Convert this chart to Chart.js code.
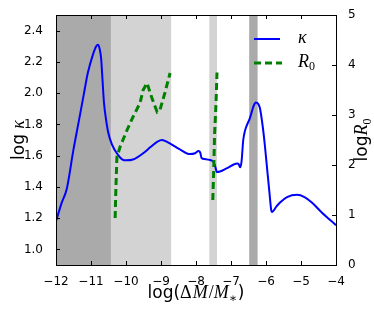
<!DOCTYPE html>
<html>
<head>
<meta charset="utf-8">
<script src="https://cdn.jsdelivr.net/npm/chart.js@4.4.1/dist/chart.umd.min.js"></script>
<style>
html, body { margin: 0; padding: 0; background: #fff; }
#wrap { width: 374px; height: 312px; }
</style>
</head>
<body>
<div id="wrap"><canvas id="c"></canvas></div>
<script>
// kappa curve (left axis)
const kappaX = [-12, -11.85, -11.69, -11.5, -11.34, -11.2, -11.09, -10.94, -10.85, -10.8, -10.75, -10.71, -10.67, -10.63, -10.57, -10.51, -10.4, -10.23, -10.1, -10.0, -9.8, -9.51, -9.3, -9.1, -8.97, -8.8, -8.46, -8.17, -8.03, -7.93, -7.88, -7.84, -7.75, -7.6, -7.5, -7.45, -7.4, -7.11, -6.83, -6.78, -6.74, -6.7, -6.65, -6.6, -6.46, -6.35, -6.29, -6.22, -6.17, -6.09, -6.03, -5.97, -5.9, -5.85, -5.83, -5.7, -5.6, -5.4, -5.11, -4.9, -4.69, -4.4, -4];
const kappaY = [1.18, 1.29, 1.39, 1.64, 1.83, 2.0, 2.13, 2.25, 2.30, 2.31, 2.28, 2.22, 2.08, 1.94, 1.83, 1.75, 1.67, 1.605, 1.575, 1.57, 1.575, 1.615, 1.655, 1.69, 1.70, 1.685, 1.64, 1.61, 1.615, 1.63, 1.62, 1.585, 1.578, 1.572, 1.56, 1.53, 1.495, 1.52, 1.55, 1.545, 1.525, 1.56, 1.70, 1.76, 1.84, 1.92, 1.94, 1.93, 1.90, 1.78, 1.66, 1.52, 1.36, 1.25, 1.24, 1.275, 1.30, 1.335, 1.35, 1.335, 1.30, 1.235, 1.155];

// R0 curve (right axis), null = gap
const r0X = [-10.31, -10.29, -10.26, -10.17, -9.97, -9.8, -9.6, -9.51, -9.4, -9.26, -9.11, -9.03, -8.89, -8.74, null, -7.52, -7.49, -7.47, -7.43, -7.40];
const r0Y = [0.94, 1.5, 2.16, 2.36, 2.7, 2.96, 3.24, 3.5, 3.64, 3.34, 3.06, 3.1, 3.44, 3.84, null, 1.3, 2.0, 2.6, 3.2, 3.85];

// shaded x ranges
const darkBands = [[-12, -10.43], [-6.48, -6.24]];
const lightBands = [[-10.43, -8.71], [-7.62, -7.40]];

const xTicks = [-12, -11, -10, -9, -8, -7, -6, -5, -4];
const kappaTicks = [1.0, 1.2, 1.4, 1.6, 1.8, 2.0, 2.2, 2.4];
const r0Ticks = [0, 1, 2, 3, 4, 5];

const SANS = '"DejaVu Sans", sans-serif';
const SERIF = '"Liberation Serif", "DejaVu Serif", serif';

const minus = (v) => (v < 0 ? '\u2212' + Math.abs(v) : String(v));

function drawRich(ctx, parts, x, y, angle) {
    ctx.save();
    ctx.translate(x, y);
    ctx.rotate(angle);
    ctx.textAlign = 'left';
    ctx.textBaseline = 'alphabetic';
    ctx.fillStyle = '#000';
    let total = 0;
    parts.forEach(p => { ctx.font = p.f; p.w = ctx.measureText(p.t).width + (p.gap || 0); total += p.w; });
    let cx = -total / 2;
    parts.forEach(p => { ctx.font = p.f; ctx.fillText(p.t, cx, p.dy || 0); cx += p.w; });
    ctx.restore();
}

const decor = {
    id: 'decor',
    beforeDatasetsDraw(chart) {
        const { ctx, chartArea: a, scales: { x } } = chart;
        ctx.save();
        const band = (list, color) => {
            ctx.fillStyle = color;
            list.forEach(([x0, x1]) => {
                const p0 = x.getPixelForValue(x0), p1 = x.getPixelForValue(x1);
                ctx.fillRect(p0, a.top, p1 - p0, a.bottom - a.top);
            });
        };
        band(darkBands, '#aaaaaa');
        band(lightBands, '#d3d3d3');
        ctx.restore();
    },
    afterDraw(chart) {
        const { ctx, chartArea: a, scales: { x, y, y2 } } = chart;
        ctx.save();
        ctx.strokeStyle = '#000';
        ctx.lineWidth = 1;
        // inward ticks
        ctx.beginPath();
        xTicks.forEach(v => {
            const px = Math.round(x.getPixelForValue(v)) + 0.5;
            ctx.moveTo(px, a.bottom); ctx.lineTo(px, a.bottom - 4);
            ctx.moveTo(px, a.top); ctx.lineTo(px, a.top + 4);
        });
        kappaTicks.forEach(v => {
            const py = Math.round(y.getPixelForValue(v)) + 0.5;
            ctx.moveTo(a.left, py); ctx.lineTo(a.left + 4, py);
        });
        r0Ticks.forEach(v => {
            const py = Math.round(y2.getPixelForValue(v)) + 0.5;
            ctx.moveTo(a.right, py); ctx.lineTo(a.right - 4, py);
        });
        ctx.stroke();
        // frame
        ctx.strokeRect(Math.round(a.left) + 0.5, Math.round(a.top) + 0.5,
            Math.round(a.right - a.left), Math.round(a.bottom - a.top));

        // legend
        const lx0 = a.right - 82, lx1 = a.right - 56;
        ctx.lineWidth = 2;
        ctx.strokeStyle = '#0000ff';
        ctx.beginPath(); ctx.moveTo(lx0, a.top + 24); ctx.lineTo(lx1, a.top + 24); ctx.stroke();
        ctx.lineWidth = 3;
        ctx.strokeStyle = '#008000';
        ctx.setLineDash([7, 4]);
        ctx.beginPath(); ctx.moveTo(lx0, a.top + 48); ctx.lineTo(lx1 + 2, a.top + 48); ctx.stroke();
        ctx.setLineDash([]);
        ctx.fillStyle = '#000';
        ctx.textBaseline = 'middle';
        ctx.textAlign = 'left';
        ctx.font = 'italic 18px ' + SERIF;
        ctx.fillText('\u03ba', a.right - 38, a.top + 23);
        ctx.fillText('R', a.right - 38, a.top + 47);
        ctx.font = '12px ' + SERIF;
        ctx.fillText('0', a.right - 27, a.top + 52);
        ctx.restore();

        // axis labels
        const cxm = (a.left + a.right) / 2, cym = (a.top + a.bottom) / 2;
        drawRich(ctx, [
            { t: 'log(', f: '17px ' + SANS },
            { t: '\u0394', f: '18px ' + SERIF, gap: 1 },
            { t: 'M', f: 'italic 18px ' + SERIF, gap: 1 },
            { t: '/', f: '18px ' + SERIF },
            { t: 'M', f: 'italic 18px ' + SERIF },
            { t: '\u2217', f: '12px ' + SERIF, dy: 4, gap: 1 },
            { t: ')', f: '17px ' + SANS }
        ], cxm, a.bottom + 33, 0);
        drawRich(ctx, [
            { t: 'log ', f: '17px ' + SANS },
            { t: '\u03ba', f: 'italic 18px ' + SERIF }
        ], a.left - 32, cym, -Math.PI / 2);
        drawRich(ctx, [
            { t: 'log', f: '17px ' + SANS },
            { t: 'R', f: 'italic 18px ' + SERIF },
            { t: '0', f: '12px ' + SERIF, dy: 4 }
        ], a.right + 31, cym, -Math.PI / 2);
    }
};

const tickFont = { family: SANS, size: 12 };

new Chart(document.getElementById('c'), {
    type: 'scatter',
    data: {
        datasets: [{
            label: '\u03ba',
            data: kappaX.map((v, i) => ({ x: v, y: kappaY[i] })),
            yAxisID: 'y',
            showLine: true,
            borderColor: '#0000ff',
            borderWidth: 2,
            pointRadius: 0,
            cubicInterpolationMode: 'monotone',
            order: 1
        }, {
            label: 'R0',
            data: r0X.map((v, i) => ({ x: v, y: r0Y[i] })),
            yAxisID: 'y2',
            showLine: true,
            spanGaps: false,
            borderColor: '#008000',
            borderWidth: 3,
            borderDash: [7, 4],
            pointRadius: 0,
            tension: 0,
            order: 0
        }]
    },
    options: {
        responsive: true,
        maintainAspectRatio: false,
        animation: false,
        layout: { padding: { top: 15, left: 0, right: 0, bottom: 0 } },
        plugins: { legend: { display: false }, tooltip: { enabled: false } },
        scales: {
            x: {
                type: 'linear', min: -12, max: -4,
                afterBuildTicks: (s) => { s.ticks = xTicks.map(v => ({ value: v })); },
                afterFit: (s) => { s.height = 47; },
                ticks: { callback: minus, font: tickFont, color: '#000', padding: 2, maxRotation: 0, autoSkip: false },
                grid: { display: false },
                border: { display: false }
            },
            y: {
                type: 'linear', position: 'left', min: 0.9, max: 2.5,
                afterBuildTicks: (s) => { s.ticks = kappaTicks.map(v => ({ value: v })); },
                afterFit: (s) => { s.width = 56; },
                ticks: { callback: (v) => v.toFixed(1), font: tickFont, color: '#000', padding: 5, autoSkip: false },
                grid: { display: false },
                border: { display: false }
            },
            y2: {
                type: 'linear', position: 'right', min: 0, max: 5,
                afterBuildTicks: (s) => { s.ticks = r0Ticks.map(v => ({ value: v })); },
                afterFit: (s) => { s.width = 38; },
                ticks: { callback: (v) => String(v), font: tickFont, color: '#000', padding: 4, autoSkip: false },
                grid: { display: false },
                border: { display: false }
            }
        }
    },
    plugins: [decor]
});
</script>
</body>
</html>
